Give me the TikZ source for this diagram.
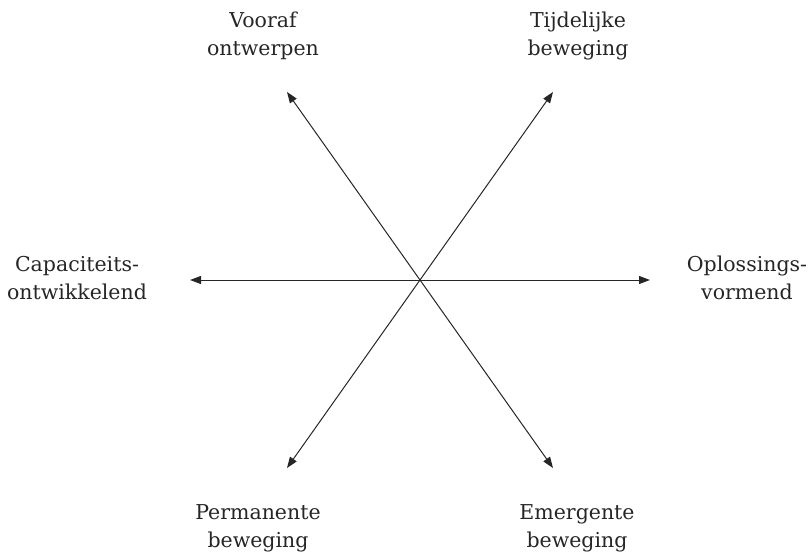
\documentclass[tikz,border=0pt]{standalone}
\usepackage{fontspec}
\setmainfont{DejaVu Serif}
\usetikzlibrary{arrows.meta}
\begin{document}
\begin{tikzpicture}[x=1pt,y=-1pt,
  axis/.style={{Triangle[length=11pt,width=8pt]}-{Triangle[length=11pt,width=8pt]}, line width=1pt, black!85},
  lbl/.style={align=center, font=\fontsize{20.5}{27.5}\selectfont, text=black!85, inner sep=0pt, anchor=base}]
\useasboundingbox (0,0) rectangle (812,554);
\coordinate (c) at (420,280);
\coordinate (l) at (190,280);
\coordinate (r) at (650,280);
\coordinate (tl) at (287,92);
\coordinate (br) at (553,468);
\coordinate (tr) at (553,92);
\coordinate (bl) at (287,468);
\draw[axis] (l) -- (r);
\draw[axis] (tl) -- (br);
\draw[axis] (tr) -- (bl);
\node[lbl] (n1) at (263,55) {Vooraf\\ontwerpen};
\node[lbl] (n2) at (578,55) {Tijdelijke\\beweging};
\node[lbl] (n3) at (77,299) {Capaciteits-\\ontwikkelend};
\node[lbl] (n4) at (747,299) {Oplossings-\\vormend};
\node[lbl] (n5) at (258,547) {Permanente\\beweging};
\node[lbl] (n6) at (577,547) {Emergente\\beweging};
\end{tikzpicture}
\end{document}
